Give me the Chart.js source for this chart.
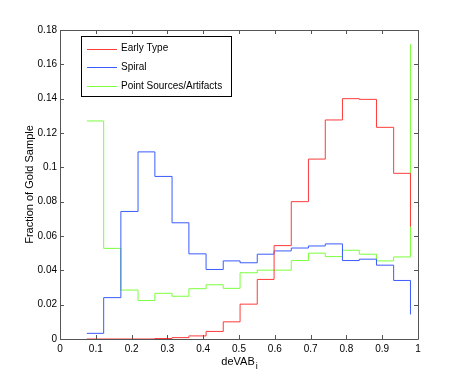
<!DOCTYPE html>
<html lang="en">
  <head>
    <meta charset="UTF-8" />
    <title>Fraction of Gold Sample vs deVAB_i</title>
    <script src="https://cdn.jsdelivr.net/npm/chart.js"></script>
    <style>
      html, body { margin: 0; padding: 0; background: #fff; }
    </style>
  </head>
  <body>
    <canvas id="goldChart" width="463" height="382"></canvas>
    <script>
      // histogram bin positions (stairs x)
      const binX = [0.075, 0.122, 0.170, 0.218, 0.265, 0.313, 0.360, 0.408, 0.456, 0.503,
                    0.551, 0.598, 0.646, 0.694, 0.741, 0.789, 0.836, 0.884, 0.932, 0.979];

      const earlyType = [0, 0, 0, 0, 0.0003, 0.0008, 0.0018, 0.0044, 0.0100, 0.0203,
                         0.0347, 0.0544, 0.0800, 0.1048, 0.1276, 0.1400, 0.1396, 0.1233, 0.0965, 0.0654];
      const spiral = [0.0033, 0.0241, 0.0743, 0.1090, 0.0947, 0.0677, 0.0496, 0.0405, 0.0455, 0.0444,
                      0.0494, 0.0513, 0.0530, 0.0542, 0.0554, 0.0457, 0.0465, 0.0430, 0.0341, 0.0143];
      const pointSources = [0.1270, 0.0528, 0.0285, 0.0224, 0.0266, 0.0249, 0.0293, 0.0316, 0.0295, 0.0386,
                            0.0401, 0.0401, 0.0457, 0.0500, 0.0480, 0.0517, 0.0494, 0.0455, 0.0478, 0.1717];

      const seriesNames = ['Early Type', 'Spiral', 'Point Sources/Artifacts'];
      const seriesColors = ['#ff3b3b', '#3b5bff', '#7cff3c'];

      const xTickLabels = ['0', '0.1', '0.2', '0.3', '0.4', '0.5', '0.6', '0.7', '0.8', '0.9', '1'];
      const yTickLabels = ['0', '0.02', '0.04', '0.06', '0.08', '0.1', '0.12', '0.14', '0.16', '0.18'];

      const FONT = 'Liberation Sans, Arial, Helvetica, sans-serif';
      const AXIS_COLOR = '#555';

      const toPoints = (vals) => vals.map((v, i) => ({ x: binX[i], y: v }));

      // box + inward ticks, like a matlab axes
      const axesBox = {
        id: 'axesBox',
        afterDatasetsDraw(chart) {
          const { ctx, chartArea: a, scales } = chart;
          ctx.save();
          ctx.strokeStyle = AXIS_COLOR;
          ctx.lineWidth = 1;
          ctx.beginPath();
          ctx.rect(Math.round(a.left) + 0.5, Math.round(a.top) + 0.5,
                   Math.round(a.right - a.left), Math.round(a.bottom - a.top));
          scales.x.ticks.forEach((t) => {
            const px = Math.round(scales.x.getPixelForValue(t.value)) + 0.5;
            ctx.moveTo(px, a.bottom); ctx.lineTo(px, a.bottom - 4);
            ctx.moveTo(px, a.top); ctx.lineTo(px, a.top + 4);
          });
          scales.y.ticks.forEach((t) => {
            const py = Math.round(scales.y.getPixelForValue(t.value)) + 0.5;
            ctx.moveTo(a.left, py); ctx.lineTo(a.left + 4, py);
            ctx.moveTo(a.right, py); ctx.lineTo(a.right - 4, py);
          });
          ctx.stroke();

          // x label with subscript
          ctx.fillStyle = '#000';
          ctx.textBaseline = 'alphabetic';
          ctx.font = '11px ' + FONT;
          const main = 'deVAB';
          const w = ctx.measureText(main).width;
          ctx.font = '9px ' + FONT;
          const ws = ctx.measureText('i').width;
          const cx = (a.left + a.right) / 2;
          const x0 = cx - (w + ws) / 2;
          ctx.font = '11px ' + FONT;
          ctx.textAlign = 'left';
          ctx.fillText(main, x0, 365);
          ctx.font = '9px ' + FONT;
          ctx.fillText('i', x0 + w + 1, 369);
          ctx.restore();
        },
      };

      // legend box in the upper left of the plot
      const boxLegend = {
        id: 'boxLegend',
        afterDraw(chart) {
          const { ctx } = chart;
          const bx = 81, by = 36, bw = 150, bh = 60;
          ctx.save();
          ctx.fillStyle = '#fff';
          ctx.fillRect(bx, by, bw, bh);
          ctx.strokeStyle = '#000';
          ctx.lineWidth = 1;
          ctx.strokeRect(bx + 0.5, by + 0.5, bw, bh);
          ctx.font = '10px ' + FONT;
          ctx.textBaseline = 'middle';
          ctx.textAlign = 'left';
          chart.data.datasets.forEach((ds, i) => {
            const y = by + 12.5 + i * 18.7;
            ctx.strokeStyle = ds.borderColor;
            ctx.beginPath();
            ctx.moveTo(bx + 6, Math.round(y) + 0.5);
            ctx.lineTo(bx + 36, Math.round(y) + 0.5);
            ctx.stroke();
            ctx.fillStyle = '#000';
            ctx.fillText(ds.label, bx + 40, y);
          });
          ctx.restore();
        },
      };

      const data = {
        datasets: [earlyType, spiral, pointSources].map((vals, i) => ({
          label: seriesNames[i],
          data: toPoints(vals),
          borderColor: seriesColors[i],
          borderWidth: 1,
          pointRadius: 0,
          fill: false,
          stepped: 'before',
        })),
      };

      const config = {
        type: 'line',
        data: data,
        options: {
          responsive: false,
          animation: false,
          events: [],
          layout: { padding: { left: 0, top: 30, right: 45, bottom: 0 } },
          plugins: {
            legend: { display: false },
            tooltip: { enabled: false },
          },
          scales: {
            x: {
              type: 'linear',
              min: 0,
              max: 1,
              ticks: {
                stepSize: 0.1,
                padding: 4,
                color: '#000',
                font: { family: FONT, size: 10 },
                maxRotation: 0,
                callback: (v, i) => xTickLabels[i],
              },
              grid: { display: false, drawTicks: false },
              border: { display: false },
              afterFit: (s) => { s.height = 43; },
            },
            y: {
              type: 'linear',
              min: 0,
              max: 0.18,
              ticks: {
                stepSize: 0.02,
                padding: 3,
                color: '#000',
                font: { family: FONT, size: 10 },
                callback: (v, i) => yTickLabels[i],
              },
              grid: { display: false, drawTicks: false },
              border: { display: false },
              title: {
                display: true,
                text: 'Fraction of Gold Sample',
                color: '#000',
                font: { family: FONT, size: 11 },
                padding: { top: 23, bottom: 0 },
              },
              afterFit: (s) => { s.width = 60; },
            },
          },
        },
        plugins: [axesBox, boxLegend],
      };

      const goldChart = new Chart(document.getElementById('goldChart'), config);
    </script>
  </body>
</html>
